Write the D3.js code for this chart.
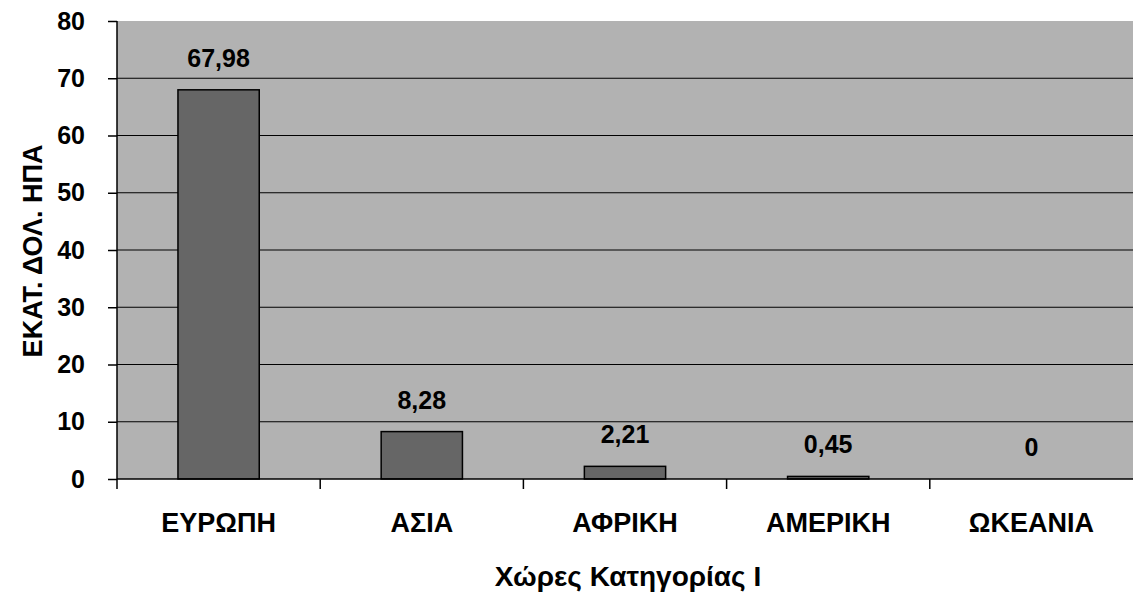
<!DOCTYPE html>
<html><head><meta charset="utf-8">
<script src="https://cdn.jsdelivr.net/npm/d3@7/dist/d3.min.js"></script>
<style>body{margin:0;background:#fff}svg{display:block}text{font-family:"Liberation Sans",Arial,sans-serif;font-weight:bold;fill:#000}</style>
</head><body><svg id="c" width="1136" height="599"></svg>
<script>
const categories = ["ΕΥΡΩΠΗ","ΑΣΙΑ","ΑΦΡΙΚΗ","ΑΜΕΡΙΚΗ","ΩΚΕΑΝΙΑ"];
const values = [67.98, 8.28, 2.21, 0.45, 0];
const valueLabels = ["67,98","8,28","2,21","0,45","0"];
const yTicks = [0,10,20,30,40,50,60,70,80];
const xTitle = "Χώρες Κατηγορίας Ι";
const yTitle = "ΕΚΑΤ. ΔΟΛ. ΗΠΑ";

const svg = d3.select("#c");
const m = {l:117, r:1133, t:21, b:479};
const x = d3.scaleBand().domain(categories).range([m.l, m.r]).paddingInner(0.6).paddingOuter(0.3);
const y = d3.scaleLinear().domain([0,80]).range([m.b, m.t]);

svg.append("rect").attr("x", m.l).attr("y", m.t).attr("width", m.r-m.l).attr("height", m.b-m.t).attr("fill", "#b2b2b2");

svg.append("g").selectAll("line").data(yTicks.filter(d=>d>0&&d<80)).join("line")
  .attr("x1", m.l).attr("x2", m.r).attr("y1", d=>y(d)).attr("y2", d=>y(d))
  .attr("stroke", "#000").attr("stroke-width", 1.2);

svg.append("g").selectAll("rect").data(values).join("rect")
  .attr("x", (d,i)=>x(categories[i])).attr("width", x.bandwidth())
  .attr("y", d=>y(d)).attr("height", d=>y(0)-y(d))
  .attr("fill", "#666666").attr("stroke", "#000").attr("stroke-width", 1.5);

svg.append("g").selectAll("text").data(values).join("text")
  .attr("x", (d,i)=>x(categories[i])+x.bandwidth()/2).attr("y", d=>y(d)-23)
  .attr("text-anchor","middle").attr("font-size", 25).text((d,i)=>valueLabels[i]);

// y axis
const ya = svg.append("g").attr("transform", `translate(${m.l},0)`)
  .call(d3.axisLeft(y).tickValues(yTicks).tickSize(9).tickPadding(23));
ya.select(".domain").attr("stroke","#000").attr("stroke-width",1.5).attr("d", `M0,${m.t}V${m.b}`);
ya.selectAll(".tick line").attr("stroke","#000").attr("stroke-width",1.5);
ya.selectAll(".tick text").attr("font-size", 25).attr("font-family", '"Liberation Sans",Arial,sans-serif').attr("font-weight","bold").attr("fill","#000");

// x axis
const xa = svg.append("g").attr("transform", `translate(0,${m.b})`);
xa.append("line").attr("x1", m.l).attr("x2", m.r).attr("stroke","#000").attr("stroke-width",1.5);
const step = x.step();
const bounds = categories.map((c,i)=> x(c) - step*0.3);
xa.selectAll("line.t").data(bounds).join("line").attr("class","t")
  .attr("x1", d=>d).attr("x2", d=>d).attr("y1",0).attr("y2",10).attr("stroke","#000").attr("stroke-width",1.5);
xa.selectAll("text").data(categories).join("text")
  .attr("x", d=>x(d)+x.bandwidth()/2).attr("y", 53).attr("text-anchor","middle").attr("font-size", 27).text(d=>d);

svg.append("text").attr("x", 628).attr("y", 586).attr("text-anchor","middle").attr("font-size", 28).text(xTitle);
svg.append("text").attr("transform","translate(42,251) rotate(-90)").attr("text-anchor","middle").attr("font-size", 27).text(yTitle);
</script></body></html>
